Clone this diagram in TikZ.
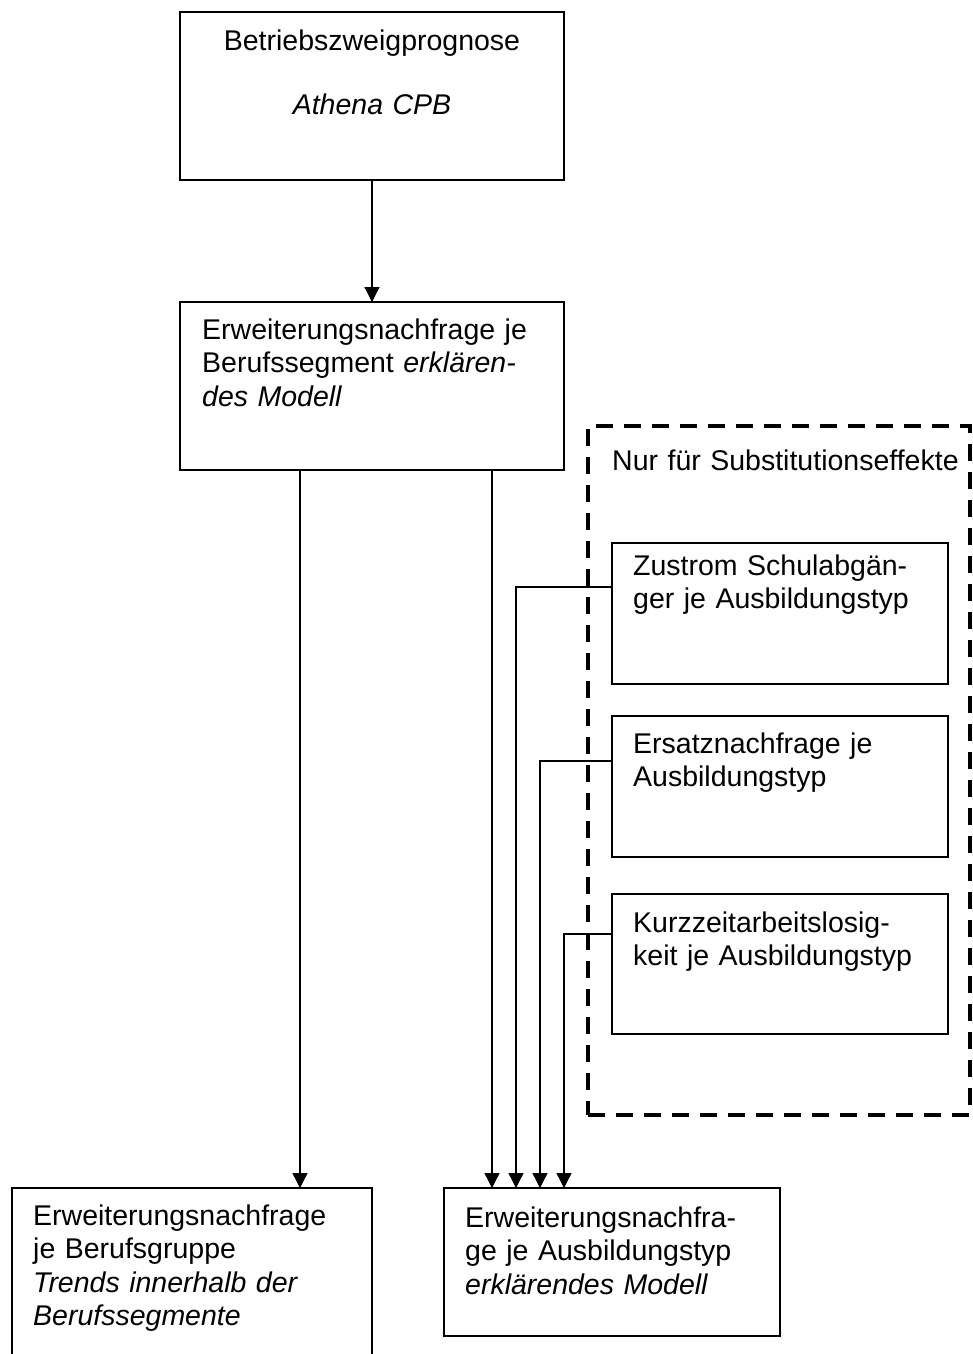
\documentclass[tikz,border=0pt]{standalone}
\usepackage{fontspec}
\setmainfont{Liberation Sans}
\usetikzlibrary{arrows.meta}
\begin{document}
\begin{tikzpicture}[x=1pt,y=-1pt,
  box/.style={draw, line width=1.6pt, rectangle, inner sep=0pt, outer sep=0pt, anchor=north west},
  txt/.style={anchor=base west, inner sep=0pt, text width=420pt, align=left, font=\fontsize{28.5}{33.5}\selectfont},
  ctxt/.style={anchor=base, inner sep=0pt, text width=384pt, align=center, font=\fontsize{28.5}{33.5}\selectfont},
  conn/.style={line width=1.3pt},
  arr/.style={conn, -{Triangle[width=15pt,length=15pt]}},
  dashbox/.style={draw, line width=3.5pt, dash pattern=on 17pt off 11pt}]
\useasboundingbox (0,0) rectangle (972,1354);
\clip (0,0) rectangle (972,1354);

% boxes
\node[box, minimum width=384pt, minimum height=168pt] (b1) at (180,12) {};
\node[box, minimum width=384pt, minimum height=168pt] (b2) at (180,302) {};
\node[box, dashbox, minimum width=382pt, minimum height=689pt] (grp) at (588,426) {};
\node[box, minimum width=336pt, minimum height=141pt] (s1) at (612,543) {};
\node[box, minimum width=336pt, minimum height=141pt] (s2) at (612,716) {};
\node[box, minimum width=336pt, minimum height=140pt] (s3) at (612,894) {};
\node[box, minimum width=360pt, minimum height=220pt] (bl) at (12,1188) {};
\node[box, minimum width=336pt, minimum height=148pt] (br) at (444,1188) {};

% texts
\node[ctxt] (t1) at (372,51) {Betriebszweigprognose\\[30.5pt]\textit{Athena CPB}};
\node[txt] (t2) at (202,339) {Erweiterungsnachfrage je\\Berufssegment \textit{erklären-}\\\textit{des Modell}};
\node[txt] (tg) at (612,470) {Nur für Substitutionseffekte};
\node[txt] (ts1) at (633,575) {Zustrom Schulabgän-\\ger je Ausbildungstyp};
\node[txt] (ts2) at (633,753) {Ersatznachfrage je\\Ausbildungstyp};
\node[txt] (ts3) at (633,932) {Kurzzeitarbeitslosig-\\keit je Ausbildungstyp};
\node[txt] (tbl) at (33,1225) {Erweiterungsnachfrage\\je Berufsgruppe\\\textit{Trends innerhalb der}\\\textit{Berufssegmente}};
\node[txt] (tbr) at (465,1227) {Erweiterungsnachfra-\\ge je Ausbildungstyp\\\textit{erklärendes Modell}};

% connector points
\coordinate (xa) at (300,0);
\coordinate (xb) at (492,0);
\coordinate (s1o) at (612,587);
\coordinate (s2o) at (612,761);
\coordinate (s3o) at (612,934);
\coordinate (d1) at (516,1188);
\coordinate (d2) at (540,1188);
\coordinate (d3) at (564,1188);

% connectors
\draw[arr] (b1.south) -- (b2.north);
\draw[arr] (xa |- b2.south) -- (xa |- bl.north);
\draw[arr] (xb |- b2.south) -- (xb |- br.north);
\draw[arr] (s1o) -| (d1);
\draw[arr] (s2o) -| (d2);
\draw[arr] (s3o) -| (d3);
\end{tikzpicture}
\end{document}
